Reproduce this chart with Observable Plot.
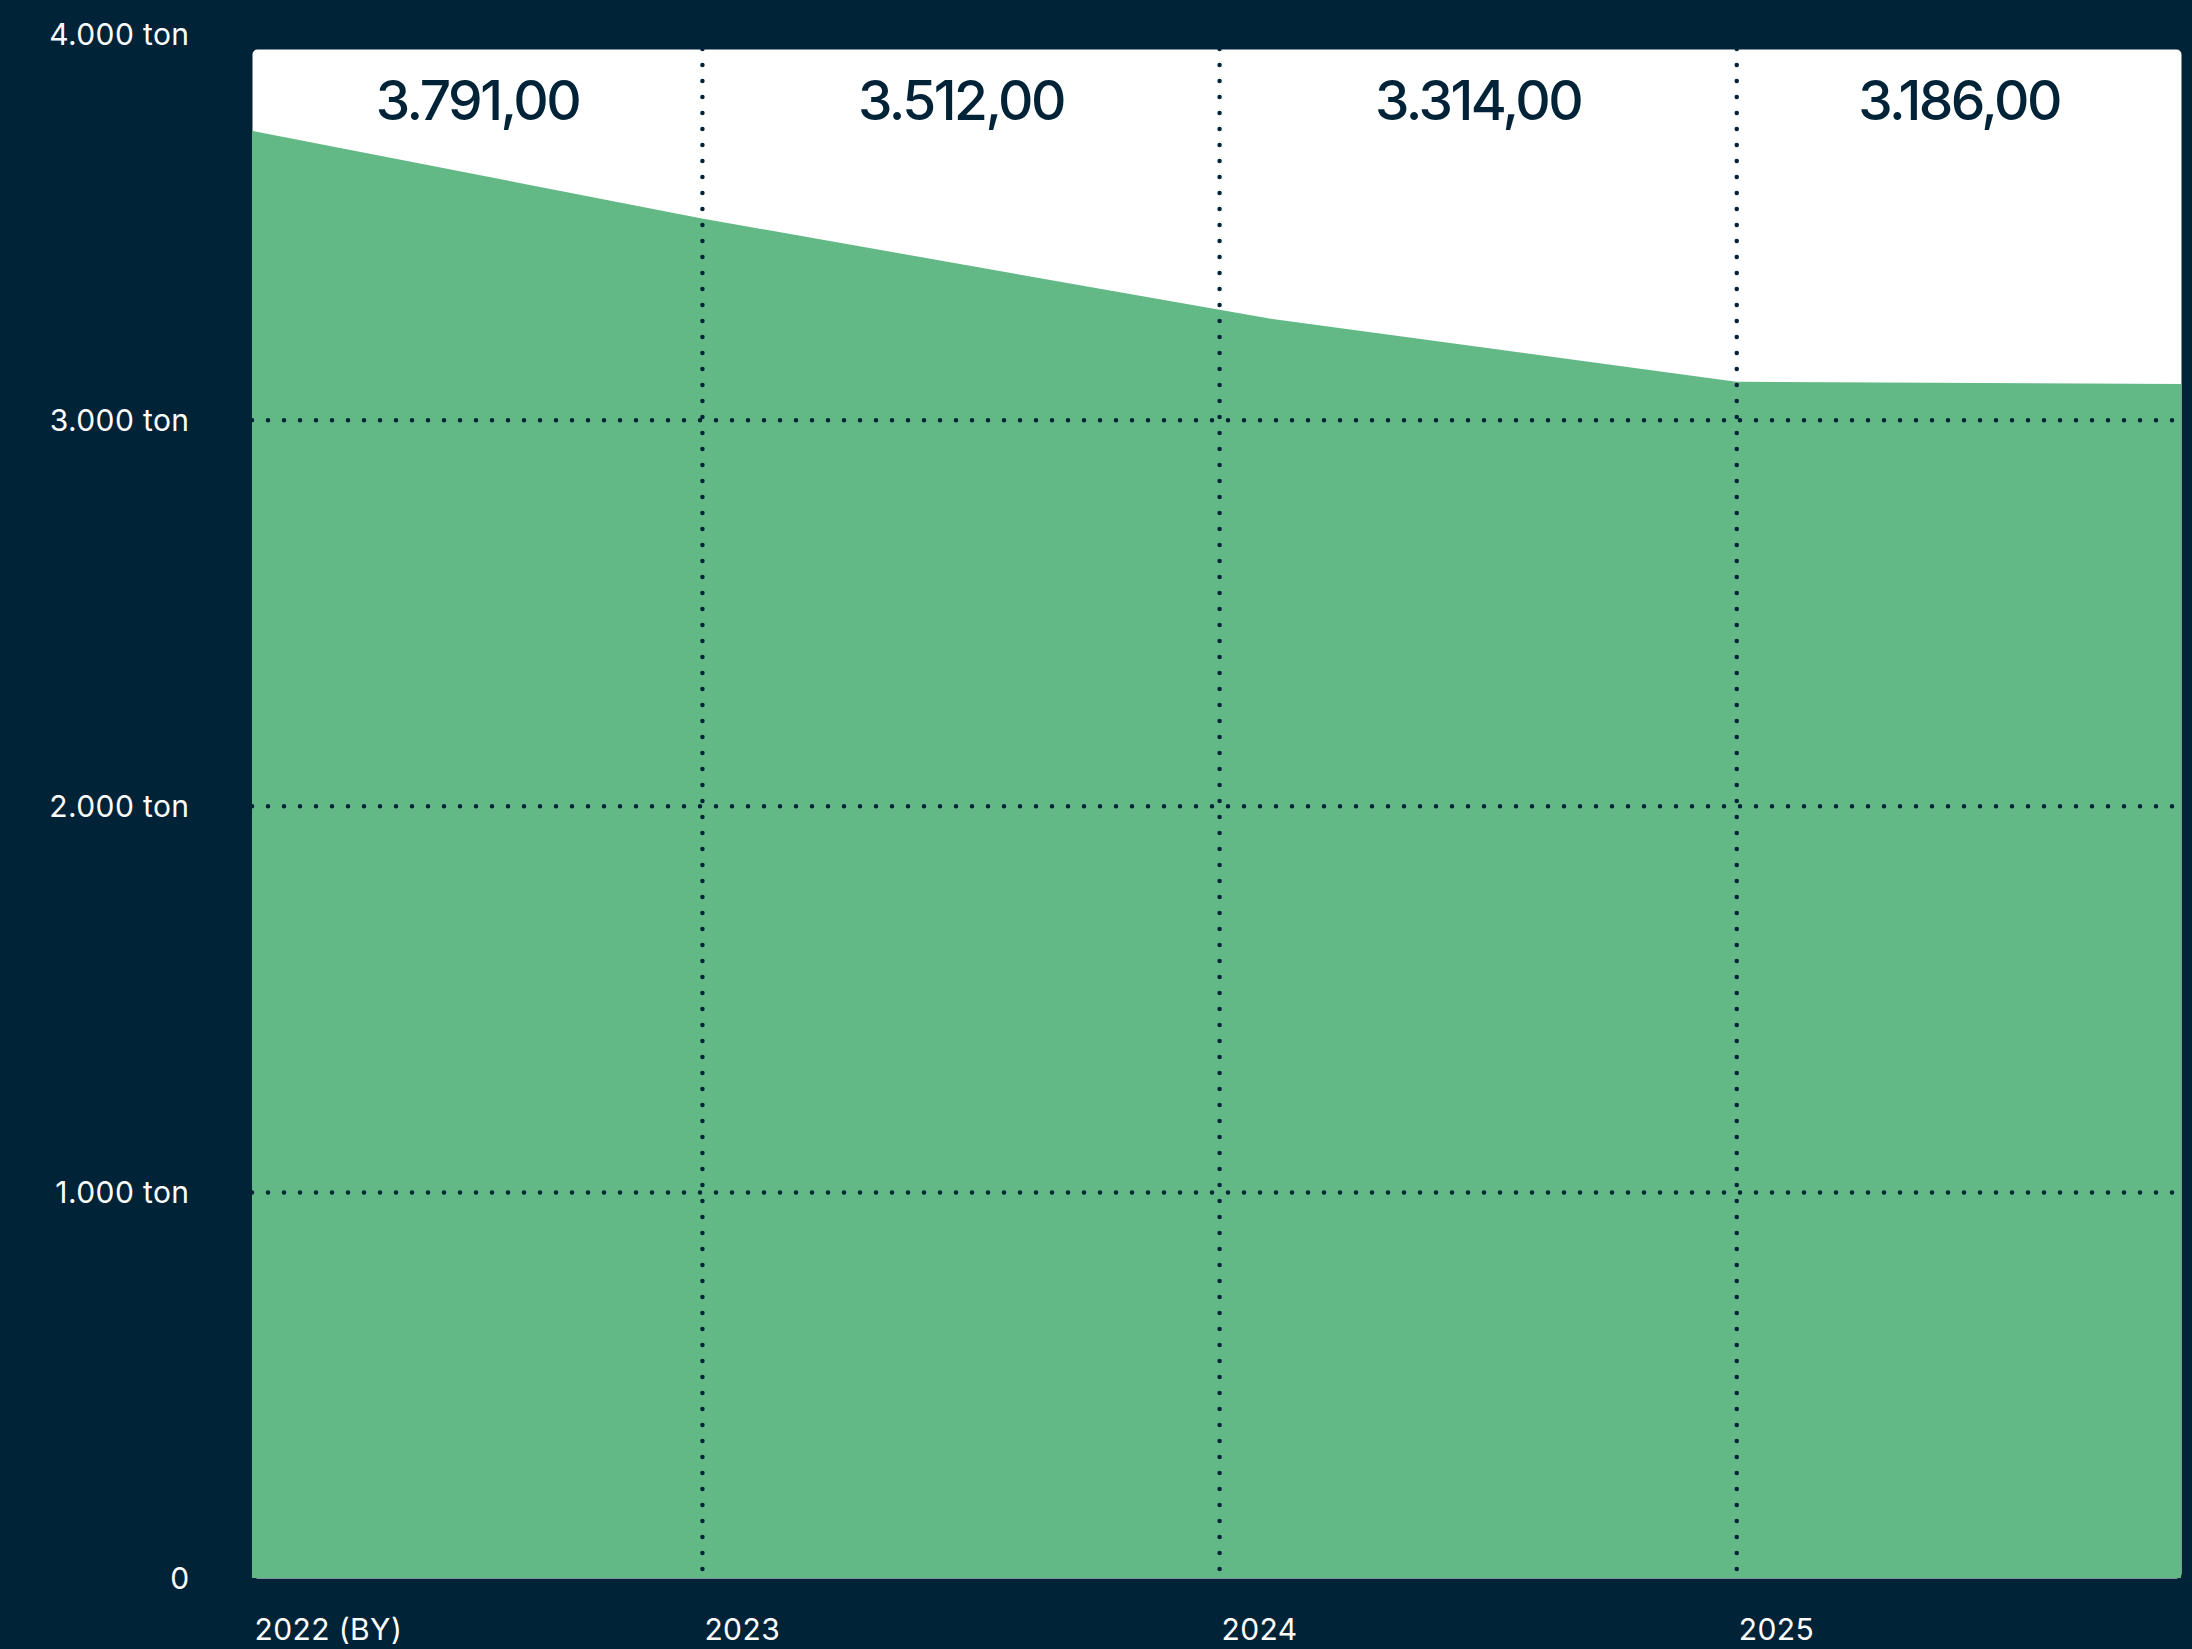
<!DOCTYPE html>
<html><head><meta charset="utf-8">
<script src="https://cdn.jsdelivr.net/npm/d3@7"></script>
<script src="https://cdn.jsdelivr.net/npm/@observablehq/plot@0.6"></script>
<style>
html,body{margin:0;padding:0;background:#002337;}
#chart svg{display:block}
g[font-size="55"] text{letter-spacing:-2.5px}
g[font-size="30"] text{letter-spacing:0.4px}
</style></head><body><div id="chart"></div>
<script>
// Category labels and their positions on the (year) x axis
const years = ["2022 (BY)", "2023", "2024", "2025"];
const yearStart = [2022.13, 2023, 2024, 2025];
const xEnd = 2025.86;
// Totals shown on top of each period (ton)
const totals = [3791, 3512, 3314, 3186];
// Outline of the green area
const curveX = [2022.13, 2023, 2024.1, 2025, 2025.86];
const curveY = [3748, 3521, 3261, 3098, 3092];
// Y axis ticks
const yTicks = [0, 1000, 2000, 3000, 4000];
const yTickLabels = ["0", "1.000 ton", "2.000 ton", "3.000 ton", "4.000 ton"];
const gridY = [1000, 2000, 3000];

const fmt = new Intl.NumberFormat("de-DE", {minimumFractionDigits: 2, maximumFractionDigits: 2});
const edges = [...yearStart, xEnd];
const valueRows = totals.map((v, i) => ({x: (edges[i] + edges[i + 1]) / 2, label: fmt.format(v)}));
const tickRows = years.map((t, i) => ({x: yearStart[i], label: t}));
const curve = curveX.map((x, i) => ({x, y: curveY[i]}));
const yTickRows = yTicks.map((v, i) => ({y: v, label: yTickLabels[i]}));

const navy = "#002337";
const green = "#63b986";
const dotted = {stroke: navy, strokeWidth: 4.5, strokeDasharray: "0 16", strokeLinecap: "round"};

const chart = Plot.plot({
  width: 2192, height: 1649,
  marginLeft: 252, marginRight: 11, marginTop: 49, marginBottom: 71,
  style: {background: "transparent", fontFamily: "Inter, sans-serif"},
  x: {type: "linear", domain: [yearStart[0], xEnd], axis: null},
  y: {domain: [0, 4000], insetTop: -15.5, insetBottom: 0, axis: null},
  marks: [
    Plot.frame({fill: "white", stroke: "none", rx: 5}),
    Plot.areaY(curve, {x: "x", y: "y", fill: green}),
    Plot.ruleY(gridY, dotted),
    Plot.ruleX(yearStart.slice(1), dotted),
    Plot.text(valueRows, {x: "x", text: "label", frameAnchor: "top", dy: 31, fontSize: 55, fontWeight: 500, fill: navy}),
    Plot.text(tickRows, {x: "x", text: "label", frameAnchor: "bottom", dy: 61, dx: 2, textAnchor: "start", fill: "white", fontSize: 30}),
    Plot.text(yTickRows, {y: "y", text: "label", frameAnchor: "left", dx: -63, dy: 1, textAnchor: "end", fill: "white", fontSize: 30})
  ]
});
document.getElementById("chart").appendChild(chart);
</script>
</body></html>
